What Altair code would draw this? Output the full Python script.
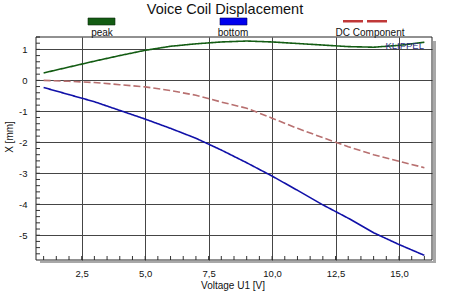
import altair as alt
import numpy as np
import pandas as pd

# Voltage steps (V) and displacement values (mm)
voltage = [1, 2, 3, 4, 5, 6, 7, 8, 9, 10, 11, 12, 13, 14, 15, 16]
peak = [0.24, 0.43, 0.62, 0.80, 0.97, 1.10, 1.18, 1.24, 1.27, 1.24, 1.19, 1.14, 1.09, 1.07, 1.13, 1.23]
bottom = [-0.23, -0.46, -0.69, -0.97, -1.25, -1.55, -1.87, -2.25, -2.66, -3.09, -3.55, -4.02, -4.45, -4.92, -5.30, -5.65]
dc_component = [0.0, -0.03, -0.07, -0.14, -0.21, -0.33, -0.48, -0.70, -0.90, -1.22, -1.55, -1.85, -2.14, -2.40, -2.61, -2.82]

series_names = ["peak", "bottom", "DC Component"]
line_colors = ["#135c13", "#1010a8", "#b87070"]

x_ticks = [2.5, 5.0, 7.5, 10.0, 12.5, 15.0]
y_ticks = [-5, -4, -3, -2, -1, 0, 1]

W, H = 396, 223
FONT = "Liberation Sans"

rows = []
for name, vals in zip(series_names, [peak, bottom, dc_component]):
    for v, d in zip(voltage, vals):
        rows.append({"V": v, "series": name, "X": d})
df = pd.DataFrame(rows)

x_scale = alt.Scale(domain=[0.7, 16.3], nice=False, zero=False)
y_scale = alt.Scale(domain=[-5.8, 1.4], nice=False, zero=False)

x_axis = alt.Axis(
    values=x_ticks, grid=True, gridColor="#454545", gridWidth=1, gridOpacity=1,
    ticks=False, domain=False, labelPadding=8, labelFont=FONT, labelFontSize=9.5,
    labelColor="#111", title=None, labelOverlap=False,
    labelExpr="replace(format(datum.value, '.1f'), '.', ',')",
)
y_axis = alt.Axis(
    values=y_ticks, grid=True, gridColor="#454545", gridWidth=1, gridOpacity=1,
    ticks=False, domain=False, labelPadding=9, labelFont=FONT, labelFontSize=9.5,
    labelColor="#111", title=None, labelOverlap=False, labelExpr="'' + datum.value",
)

lines = alt.Chart(df).mark_line(clip=True).encode(
    x=alt.X("V:Q", scale=x_scale, axis=x_axis),
    y=alt.Y("X:Q", scale=y_scale, axis=y_axis),
    color=alt.Color("series:N", scale=alt.Scale(domain=series_names, range=line_colors), legend=None),
    strokeDash=alt.StrokeDash(
        "series:N",
        scale=alt.Scale(domain=series_names, range=[[1, 0], [1, 0], [7, 3]]),
        legend=None,
    ),
    strokeWidth=alt.StrokeWidth(
        "series:N",
        scale=alt.Scale(domain=series_names, range=[1.6, 1.6, 1.1]),
        legend=None,
    ),
)

# Inward minor ticks along the bottom and left edges
minor_x = pd.DataFrame({"t": np.arange(1.0, 16.01, 0.5)})
minor_y = pd.DataFrame({"t": np.round(np.arange(-5.6, 1.41, 0.2), 2)})

ticks_x = alt.Chart(minor_x).mark_rule(color="#333", strokeWidth=1).encode(
    x=alt.X("t:Q", scale=x_scale, axis=x_axis), y=alt.value(H), y2=alt.value(H - 4)
)
ticks_y = alt.Chart(minor_y).mark_rule(color="#333", strokeWidth=1).encode(
    y=alt.Y("t:Q", scale=y_scale, axis=y_axis), x=alt.value(0), x2=alt.value(4)
)

one = pd.DataFrame({"k": [0]})

# Drop shadow on the right and bottom of the frame
shadow_r = alt.Chart(one).mark_rect(color="#a8a8a8").encode(
    x=alt.value(W + 1), x2=alt.value(W + 4), y=alt.value(4), y2=alt.value(H + 3)
)
shadow_b = alt.Chart(one).mark_rect(color="#a8a8a8").encode(
    x=alt.value(4), x2=alt.value(W + 4), y=alt.value(H + 1), y2=alt.value(H + 3)
)
frame = alt.Chart(one).mark_rect(fill=None, stroke="#222", strokeWidth=1).encode(
    x=alt.value(0), x2=alt.value(W), y=alt.value(0), y2=alt.value(H)
)


def label(text, x, y, size=9.5, color="#111", align="center", baseline="alphabetic", angle=0):
    return alt.Chart(one).mark_text(
        text=text, font=FONT, fontSize=size, color=color, align=align,
        baseline=baseline, angle=angle,
    ).encode(x=alt.value(x), y=alt.value(y))


title = label("Voice Coil Displacement", 189, -23, size=14.5, color="#111")
x_title = label("Voltage U1  [V]", 197, 251.5, size=10)
y_title = label("X  [mm]", -26, 100, size=10, baseline="middle", angle=270)
brand = label("KLIPPEL", 388, 12, size=9.5, color="#2a2a80", align="right")

# Legend: swatches above their labels
sw_peak = alt.Chart(one).mark_rect(color="#135c13", stroke="#0a2a0a", strokeWidth=0.6).encode(
    x=alt.value(52), x2=alt.value(79), y=alt.value(-19), y2=alt.value(-12)
)
sw_bottom = alt.Chart(one).mark_rect(color="#0000ee", stroke="#000060", strokeWidth=0.6).encode(
    x=alt.value(184), x2=alt.value(211), y=alt.value(-19), y2=alt.value(-12)
)
sw_dc1 = alt.Chart(one).mark_rect(color="#c03838").encode(
    x=alt.value(307), x2=alt.value(327), y=alt.value(-17), y2=alt.value(-14.5)
)
sw_dc2 = alt.Chart(one).mark_rect(color="#c03838").encode(
    x=alt.value(331), x2=alt.value(351), y=alt.value(-17), y2=alt.value(-14.5)
)
lg_peak = label("peak", 66, -1.5, size=10)
lg_bottom = label("bottom", 197, -1.5, size=10)
lg_dc = label("DC Component", 334, -1.5, size=10)

chart = alt.layer(
    shadow_r, shadow_b, lines, ticks_x, ticks_y, frame, brand,
    title, x_title, y_title,
    sw_peak, sw_bottom, sw_dc1, sw_dc2, lg_peak, lg_bottom, lg_dc,
).properties(
    width=W, height=H,
    autosize=alt.AutoSizeParams(type="none"),
    padding={"left": 36, "top": 37, "right": 18, "bottom": 31},
    background="white",
).configure_view(stroke=None)

chart.save("out.html", embed_options={"renderer": "svg", "actions": False})
